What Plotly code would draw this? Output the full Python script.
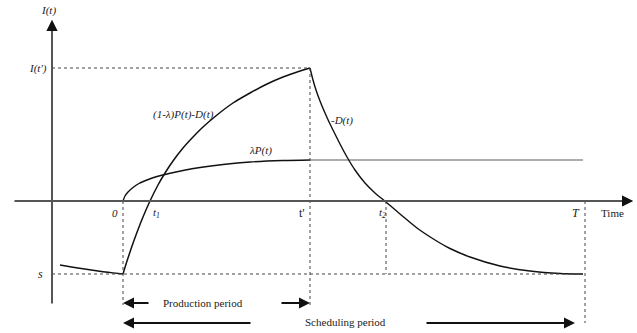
import plotly.graph_objects as go

# Key schematic levels/times (data units: time offset, inventory level)
t_prime = 187
t1 = 27
t2 = 263
T_end = 462
I_tp = 133
s_level = -73
y_axis_x = -71

# Main inventory curve (1-λ)P(t)-D(t), 0 -> t'
rise_t = [0, 4, 8, 13, 20, 27, 35, 42, 50, 60, 70, 80, 94, 110, 127, 144, 160, 177, 187]
rise_i = [-73, -60, -48, -34, -16, 0, 16, 28, 40, 53, 64, 74, 86, 98, 108, 117, 124, 130, 133]

# Pre-period tail
pre_t = [-63, -50, -40, -30, -20, -10, 0]
pre_i = [-64, -66.2, -67.8, -69.3, -70.7, -71.9, -73]

# λP(t)
lp_t = [0, 2, 5, 10, 16, 24, 34, 46, 60, 77, 100, 127, 160, 187]
lp_i = [0, 5, 9, 13.5, 17.5, 21, 24.5, 27.5, 30.5, 33.5, 36.5, 39, 40.5, 41]
lp_flat_t = [187, 460]
lp_flat_i = [41, 41]

# -D(t)
dec_t = [187, 190, 193, 197, 202, 207, 212, 217, 224, 232, 242, 252, 263, 277, 294, 312, 327, 347, 377, 407, 437, 460]
dec_i = [133, 121, 111, 100, 88, 77, 67, 57, 44, 31, 18, 8, -1, -13, -27, -39, -47.5, -56, -65, -70, -72.5, -73]

fig = go.Figure()
black = "#111111"
sm = 0.8
fig.add_trace(go.Scatter(x=rise_t, y=rise_i, mode="lines", line=dict(color=black, width=1.5, shape="spline", smoothing=sm)))
fig.add_trace(go.Scatter(x=pre_t, y=pre_i, mode="lines", line=dict(color=black, width=1.4, shape="spline", smoothing=sm)))
fig.add_trace(go.Scatter(x=lp_t, y=lp_i, mode="lines", line=dict(color=black, width=1.4, shape="spline", smoothing=sm)))
fig.add_trace(go.Scatter(x=lp_flat_t, y=lp_flat_i, mode="lines", line=dict(color="#5a5a5a", width=1.2)))
fig.add_trace(go.Scatter(x=dec_t, y=dec_i, mode="lines", line=dict(color=black, width=1.4, shape="spline", smoothing=sm)))

dot = dict(color="#444444", width=1, dash="dot")
def dline(x0, y0, x1, y1):
    fig.add_trace(go.Scatter(x=[x0, x1], y=[y0, y1], mode="lines", line=dot))

dline(y_axis_x, I_tp, t_prime, I_tp)
dline(y_axis_x, s_level, T_end, s_level)
dline(t_prime, I_tp, t_prime, -104)
dline(0, 0, 0, -104)
dline(t2, 0, t2, s_level)
dline(T_end, 0, T_end, -122)

anns = []
def arrow(x0, y0, x1, y1, color=black, w=2):
    anns.append(dict(x=x1, y=y1, ax=x0, ay=y0, xref="x", yref="y", axref="x", ayref="y",
                     text="", showarrow=True, arrowhead=2, arrowsize=1.1, arrowwidth=w,
                     arrowcolor=color))

# axes (gray shafts, black heads)
arrow(y_axis_x, -104, y_axis_x, 181, color="#555555", w=2)
arrow(-110, 0, 510, 0, color="#555555", w=2)
arrow(y_axis_x, 170, y_axis_x, 181)
arrow(498, 0, 510, 0)
# periods
arrow(t1, -102, 0, -102)
arrow(157, -102, t_prime, -102)
arrow(129, -122, 0, -122)
arrow(302, -122, 452, -122)

FAM = "Times New Roman, Liberation Serif, serif"
def label(x, y, text, xanchor="center", size=11):
    anns.append(dict(x=x, y=y, xref="x", yref="y", text=text, showarrow=False,
                     font=dict(family=FAM, size=size, color="#222222"),
                     xanchor=xanchor, yanchor="middle"))

label(-75, 191, "<i>I(t)</i>")
label(-74, I_tp, "<i>I(t')</i>", xanchor="right")
label(60, 87, "<i>(1-λ)P(t)-D(t)</i>")
label(137, 51, "<i>λP(t)</i>")
label(219, 81, "<i>-D(t)</i>")
label(-8, -12, "<i>0</i>")
label(33, -12, "<i>t<sub>1</sub></i>")
label(179, -12, "t′", size=12)
label(259, -12, "<i>t<sub>2</sub></i>")
label(453, -12, "<i>T</i>", size=12)
label(489, -12, "Time")
label(-83, s_level, "<i>s</i>", size=12)
label(80, -102, "Production period")
label(222, -121, "Scheduling period")

fig.update_layout(
    width=637, height=333, margin=dict(l=0, r=0, t=0, b=0),
    paper_bgcolor="white", plot_bgcolor="white", showlegend=False,
    font=dict(family=FAM),
    xaxis=dict(range=[-123, 514], visible=False, fixedrange=True),
    yaxis=dict(range=[-132, 201], visible=False, fixedrange=True),
    annotations=anns,
)
fig.write_html("out.html")
